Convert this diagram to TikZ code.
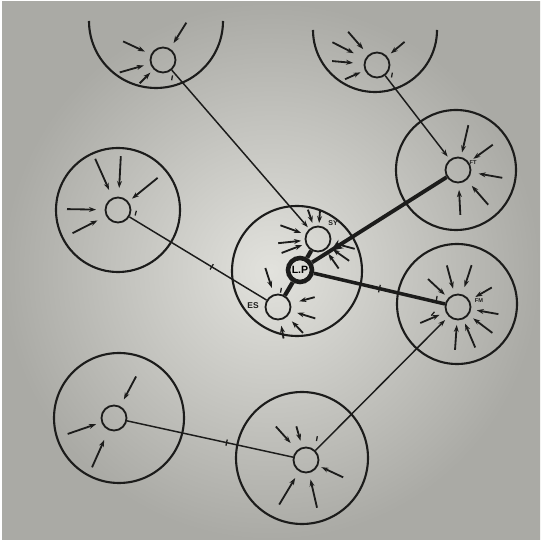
\documentclass[tikz,border=0pt]{standalone}
\usepackage{fontspec}
\setsansfont{Liberation Sans}
\usetikzlibrary{arrows.meta,decorations.markings}
\definecolor{ink}{RGB}{28,28,27}
\definecolor{paperlight}{RGB}{226,226,221}
\definecolor{paperdark}{RGB}{170,170,165}
\tikzset{
  cell/.style={
    circle,
    draw=ink,
    line width=2.6pt,
    inner sep=0pt,
    minimum size=1.25cm
  },
  hub/.style={
    circle,
    draw=ink,
    line width=6.5pt,
    inner sep=0pt,
    minimum size=1.2cm,
    font=\sffamily\bfseries\fontsize{15}{15}\selectfont
  },
  zone/.style={circle, draw=ink, line width=3pt, inner sep=0pt},
  feed/.style={-{Stealth[length=10pt,width=7pt]}, draw=ink, line width=2.6pt},
  link/.style={draw=ink, line width=2.1pt},
  trunk/.style={draw=ink, line width=6pt},
  tick/.style={draw=ink, line width=1.8pt, inner sep=0pt, minimum width=0pt, minimum height=9pt, sloped},
  pip/.style={draw=ink, line width=1.8pt, inner sep=0pt, minimum width=0pt, minimum height=7pt},
  tag/.style={font=\sffamily\bfseries\fontsize{10}{10}\selectfont, text=ink, inner sep=0pt}
}

\begin{document}
\begin{tikzpicture}[x=0.05cm, y=0.05cm]
    \useasboundingbox (0,0) rectangle (542,542);
    % paper
    \fill[white] (0,0) rectangle (542,542);
    \shade[inner color=paperlight, outer color=paperdark] (2,2) rectangle (540,540);

    % regions
    \coordinate (arcTL) at (156,521);
    \coordinate (arcTR) at (375,512);
    \draw[ink, line width=3pt] ([xshift=-3.35cm]arcTL) arc[start angle=180, end angle=360, radius=3.35cm];
    \draw[ink, line width=3pt] ([xshift=-3.1cm]arcTR) arc[start angle=180, end angle=360, radius=3.1cm];
    \node[zone, minimum size=6cm] (zoneUR) at (456,372) {};
    \node[zone, minimum size=6.2cm] (zoneLM) at (118,332) {};
    \node[zone, minimum size=6.5cm] (zoneC) at (297,271) {};
    \node[zone, minimum size=6cm] (zoneLR) at (457,238) {};
    \node[zone, minimum size=6.5cm] (zoneBL) at (119,124) {};
    \node[zone, minimum size=6.6cm] (zoneBM) at (302,84) {};

    % cells
    \node[cell] (tl) at (163,482) {};
    \node[cell] (tr) at (377,477) {};
    \node[cell] (ur) at (458,372) {};
    \node[cell] (lm) at (118,332) {};
    \node[cell] (sy) at (318,303) {};
    \node[hub] (lp) at (300,272) {L.P};
    \node[cell] (es) at (278,235) {};
    \node[cell] (lr) at (458,235) {};
    \node[cell] (bl) at (114,124) {};
    \node[cell] (bm) at (306,82) {};

    % labels
    \node[tag] (sytag) at ([shift={(15,16)}]sy.center) {SY};
    \node[tag, font=\sffamily\bfseries\fontsize{12}{12}\selectfont] (estag) at ([shift={(-25,1)}]es.center) {ES};
    \node[tag, font=\sffamily\bfseries\fontsize{8}{8}\selectfont] (urtag) at ([shift={(15,7)}]ur.center) {FT};
    \node[tag, font=\sffamily\bfseries\fontsize{8}{8}\selectfont] (lrtag) at ([shift={(21,6)}]lr.center) {FM};

    % inputs
    \foreach \a/\s/\e in {155/44/20, 196/45/20, 225/33/18, 58/44/20}
      \draw[feed] ([shift={(\a:\s)}]tl.center) -- ([shift={(\a:\e)}]tl.center);
    \foreach \a/\s/\e in {153/50/26, 131/44/21, 175/45/24, 204/35/18, 40/36/18}
      \draw[feed] ([shift={(\a:\s)}]tr.center) -- ([shift={(\a:\e)}]tr.center);
    \foreach \a/\s/\e in {77/46/18, 36/43/19, -10/45/21, -49/46/21, -87/45/20}
      \draw[feed] ([shift={(\a:\s)}]ur.center) -- ([shift={(\a:\e)}]ur.center);
    \foreach \a/\s/\e in {114/56/22, 87/54/22, 39/51/18, 179/51/22, 207/51/23}
      \draw[feed] ([shift={(\a:\s)}]lm.center) -- ([shift={(\a:\e)}]lm.center);
    \foreach \a/\s/\e in {160/40/18, 186/40/17, 201/39/17, 109/31/17, 86/29/16, -15/38/18, -35/38/18, -55/36/18}
      \draw[feed] ([shift={(\a:\s)}]sy.center) -- ([shift={(\a:\e)}]sy.center);
    \foreach \a/\s/\e in {108/41/20, 15/38/22, -17/39/20, -46/36/20, -80/32/19}
      \draw[feed] ([shift={(\a:\s)}]es.center) -- ([shift={(\a:\e)}]es.center);
    \foreach \a/\s/\e in {105/43/19, 72/44/21, 137/41/18, 30/39/20, -10/41/19, -37/43/19, -67/44/18, -94/43/18, 203/41/20}
      \draw[feed] ([shift={(\a:\s)}]lr.center) -- ([shift={(\a:\e)}]lr.center);
    \foreach \a/\s/\e in {62/47/21, 199/49/19, 246/54/24}
      \draw[feed] ([shift={(\a:\s)}]bl.center) -- ([shift={(\a:\e)}]bl.center);
    \foreach \a/\s/\e in {132/45/23, 106/35/20, -25/41/17, 239/52/21, -77/49/20}
      \draw[feed] ([shift={(\a:\s)}]bm.center) -- ([shift={(\a:\e)}]bm.center);

    % small marks by the cells
    \node[pip, rotate=-10] (tlpip) at ([shift={(-63:20)}]tl.center) {};
    \node[pip, rotate=-10] (trpip) at ([shift={(-34:18)}]tr.center) {};
    \node[pip, rotate=-15] (lmpip) at ([shift={(-10:18)}]lm.center) {};
    \node[pip, rotate=-10] (espip) at ([shift={(80:17)}]es.center) {};
    \node[pip, rotate=-10] (bmpip) at ([shift={(63:24)}]bm.center) {};
    \node[pip, rotate=-10] (lrpip) at ([shift={(158:23)}]lr.center) {};
    \node[pip, rotate=-40] (lrpipb) at ([shift={(195:26)}]lr.center) {};

    % connections
    \draw[link, -{Stealth[length=10pt,width=7pt]}, shorten >=3pt] (tl) -- (sy);
    \draw[link, -{Stealth[length=10pt,width=7pt]}, shorten >=5pt] (tr) -- (ur);
    \draw[link] (lm) -- node[tick, pos=0.6] (lmtick) {} (es);
    \draw[trunk] (lp) -- (sy);
    \draw[trunk] (lp) -- (es);
    \draw[trunk, line width=5.5pt,
      decoration={markings, mark=at position 0.86 with {\arrow{Stealth[length=17pt,width=14pt]}}},
      postaction={decorate}] (ur) -- (lp);
    \draw[trunk, line width=5pt] (lp) -- node[tick, pos=0.5, minimum height=11pt] (lptick) {} (lr);
    \draw[link] (bl) -- node[tick, pos=0.6] (bltick) {} (bm);
    \draw[link, -{Stealth[length=10pt,width=7pt]}, shorten >=7pt] (bm) -- (lr);
\end{tikzpicture}
\end{document}
